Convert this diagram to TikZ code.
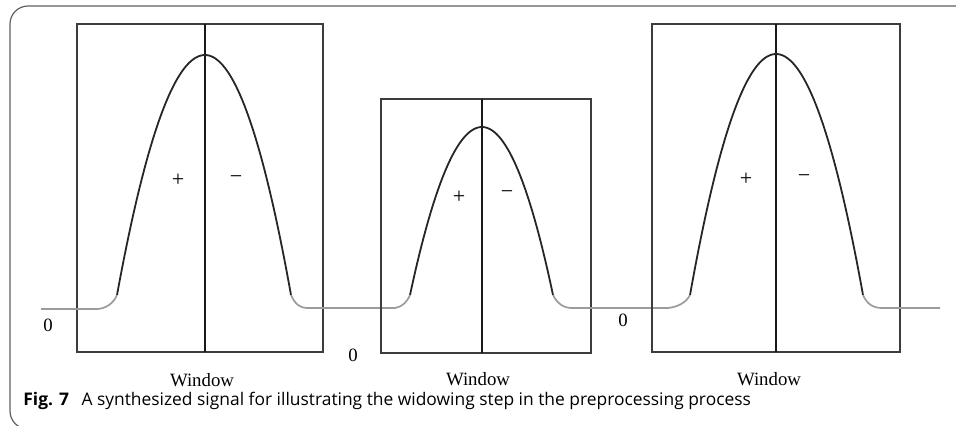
\documentclass[tikz,border=0pt]{standalone}
\usepackage{fontspec}
\setmainfont{Liberation Serif}
\newfontfamily\capfont{Open Sans}
\usepackage{xcolor}
\definecolor{boxgray}{RGB}{60, 60, 60}
\definecolor{tailgray}{RGB}{155, 155, 155}
\definecolor{framegray}{RGB}{95, 95, 95}

\begin{document}
\begin{tikzpicture}[
  x=0.5pt, y=-0.5pt,
  every node/.style={font=\fontsize{9.4}{11}\selectfont, inner sep=0pt},
  sign/.style={font=\fontsize{11}{13}\selectfont},
  winbox/.style={draw=boxgray, line width=0.65pt},
  midline/.style={draw=black!90, line width=0.6pt},
  sig/.style={draw=black!85, line width=0.9pt},
  tail/.style={draw=tailgray, line width=0.85pt},
  capt/.style={font=\capfont\fontsize{8.7}{10}\selectfont, anchor=west}
]
\useasboundingbox (0,0) rectangle (956,425);
\clip (0,0) rectangle (956,425);

\draw[framegray, line width=0.6pt, rounded corners=9pt]
  (980,6) -- (10,6) -- (10,429) -- (40,429);

% first window
\draw[winbox]  (77,24) rectangle (323,352);
\draw[midline] (205,24) -- (205,352);
\draw[sig] plot[domain=-1:0, samples=40] ({205+88*\x}, {55+240*\x*\x});
\draw[sig] plot[domain=0:1, samples=40]  ({205+86*\x}, {55+240*\x*\x});
\draw[tail] (41,309) -- (98,309) .. controls (106,308) and (113,304) .. (117,295);
\draw[tail] (291,295) .. controls (295,304) and (300,308) .. (307,308) -- (395,308);
\node[sign] (plus1)  at (178,180) {+};
\node[sign] (minus1) at (236,180) {−};
\node (zero1)  at (48,325)  {0};
\node (win1)   at (202,380) {Window};

% second window
\draw[winbox]  (381,99) rectangle (591,353);
\draw[midline] (482,99) -- (482,353);
\draw[sig] plot[domain=-1:0, samples=40] ({482+72*\x}, {127+168*\x*\x});
\draw[sig] plot[domain=0:1, samples=40]  ({482+71*\x}, {127+168*\x*\x});
\draw[tail] (395,308) .. controls (402,307) and (407,302) .. (410,295);
\draw[tail] (553,295) .. controls (557,303) and (563,308) .. (572,308) -- (668,308);
\node[sign] (plus2)  at (459,197) {+};
\node[sign] (minus2) at (507,195) {−};
\node (zero2)  at (353,355) {0};
\node (win2)   at (478,379) {Window};

% third window
\draw[winbox]  (652,24) rectangle (900,352);
\draw[midline] (776,24) -- (776,352);
\draw[sig] plot[domain=-1:0, samples=40] ({776+86*\x}, {54+241*\x*\x});
\draw[sig] plot[domain=0:1, samples=40]  ({776+87*\x}, {54+241*\x*\x});
\draw[tail] (668,308) .. controls (677,307) and (686,303) .. (690,295);
\draw[tail] (863,295) .. controls (867,304) and (873,308) .. (882,308) -- (940,308);
\node[sign] (plus3)  at (746,179) {+};
\node[sign] (minus3) at (804,179) {−};
\node (zero3)  at (623,320) {0};
\node (win3)   at (769,379) {Window};

\node[capt] (caption) at (23,401)
  {\textbf{Fig. 7}\hspace{4pt} A synthesized signal for illustrating the widowing step in the preprocessing process};
\end{tikzpicture}
\end{document}
